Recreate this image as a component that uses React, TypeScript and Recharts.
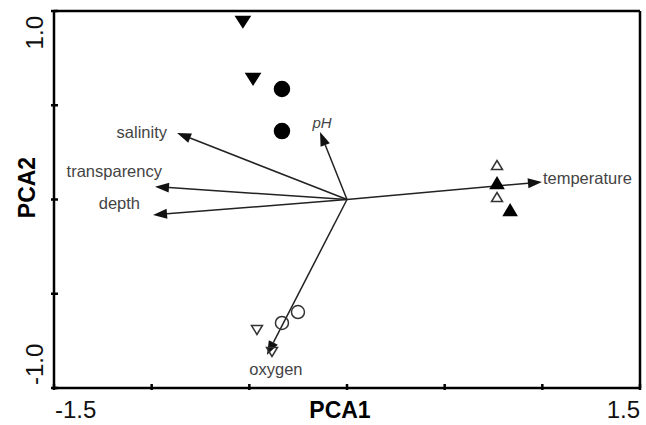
import React from 'react';
import { ScatterChart, Scatter, XAxis, YAxis, ReferenceLine, Label } from 'recharts';

// environmental variable loadings (arrows)
const variables = ['salinity', 'transparency', 'depth', 'pH', 'temperature', 'oxygen'];
const loadingPC1 = [-0.87, -0.983, -0.993, -0.138, 0.998, -0.41];
const loadingPC2 = [0.353, 0.068, -0.082, 0.358, 0.093, -0.825];

// sample scores
const filledDown = [{ x: -0.533, y: 0.942 }, { x: -0.481, y: 0.639 }];
const filledCircle = [{ x: -0.333, y: 0.586 }, { x: -0.333, y: 0.363 }];
const openUp = [{ x: 0.768, y: 0.183 }, { x: 0.768, y: 0.013 }];
const filledUp = [{ x: 0.768, y: 0.088 }, { x: 0.835, y: -0.056 }];
const openCircle = [{ x: -0.333, y: -0.655 }, { x: -0.251, y: -0.597 }];
const openDown = [{ x: -0.461, y: -0.692 }, { x: -0.384, y: -0.809 }];

const xTicks = [-1.5, -1, -0.5, 0, 0.5, 1, 1.5];
const yTicks = [-1, -0.5, 0, 0.5, 1];
const xTickLabels = ['-1.5', '', '', '', '', '', '1.5'];
const yTickLabels = ['-1.0', '', '', '', '1.0'];

const FONT = '"Liberation Sans", Arial, Helvetica, sans-serif';

// where each arrow label sits relative to the arrow tip
const labelStyle: Record<string, { dx: number; dy: number; anchor: string; italic?: boolean }> = {
  salinity: { dx: -10, dy: 5, anchor: 'end' },
  transparency: { dx: 7, dy: -10, anchor: 'end' },
  depth: { dx: -13, dy: -6, anchor: 'end' },
  pH: { dx: 2, dy: -4, anchor: 'middle', italic: true },
  temperature: { dx: 1, dy: 2, anchor: 'start' },
  oxygen: { dx: 9, dy: 20, anchor: 'middle' },
};

const arrowShape = (name: string) => (props: any) => {
  const { x1, y1, x2, y2 } = props;
  const ang = Math.atan2(y2 - y1, x2 - x1);
  const len = 14;
  const half = 5;
  const bx = x2 - len * Math.cos(ang);
  const by = y2 - len * Math.sin(ang);
  const px = -Math.sin(ang) * half;
  const py = Math.cos(ang) * half;
  const s = labelStyle[name];
  return (
    <g>
      <line x1={x1} y1={y1} x2={bx} y2={by} stroke="#222" strokeWidth={1.5} />
      <polygon points={`${x2},${y2} ${bx + px},${by + py} ${bx - px},${by - py}`} fill="#111" />
      <text
        x={x2 + s.dx}
        y={y2 + s.dy}
        textAnchor={s.anchor as any}
        fontFamily={FONT}
        fontSize={s.italic ? 15 : 16.5}
        fontStyle={s.italic ? 'italic' : 'normal'}
        fill="#444"
      >
        {name}
      </text>
    </g>
  );
};

const DownTri = (w: number, h: number, fill: string) => (p: any) => (
  <polygon
    points={`${p.cx - w / 2},${p.cy - h / 2} ${p.cx + w / 2},${p.cy - h / 2} ${p.cx},${p.cy + h / 2}`}
    fill={fill}
    stroke={fill === 'none' ? '#333' : fill}
    strokeWidth={1.5}
  />
);

const UpTri = (w: number, h: number, fill: string) => (p: any) => (
  <polygon
    points={`${p.cx - w / 2},${p.cy + h / 2} ${p.cx + w / 2},${p.cy + h / 2} ${p.cx},${p.cy - h / 2}`}
    fill={fill}
    stroke={fill === 'none' ? '#333' : fill}
    strokeWidth={1.5}
  />
);

const Dot = (r: number, fill: string) => (p: any) => (
  <circle cx={p.cx} cy={p.cy} r={r} fill={fill} stroke={fill === 'none' ? '#333' : fill} strokeWidth={1.5} />
);

const XTick = (props: any) => {
  const { x, y, index } = props;
  const text = xTickLabels[index];
  const last = index === xTicks.length - 1;
  return (
    <g>
      <line x1={x} x2={x} y1={y - 4} y2={y + 2} stroke="#000" strokeWidth={2.5} />
      {text && (
        <text x={last ? x : x + 1} y={y + 30} textAnchor={last ? 'end' : 'start'} fontFamily={FONT} fontSize={24} fill="#111">
          {text}
        </text>
      )}
    </g>
  );
};

const YTick = (props: any) => {
  const { x, y, index } = props;
  const text = yTickLabels[index];
  const top = index === yTicks.length - 1;
  const ty = top ? y + 5 : y - 3;
  return (
    <g>
      <line x1={x - 3} x2={x + 4} y1={y} y2={y} stroke="#000" strokeWidth={2.5} />
      {text && (
        <text
          x={43}
          y={ty}
          transform={`rotate(-90, 43, ${ty})`}
          textAnchor={top ? 'end' : 'start'}
          fontFamily={FONT}
          fontSize={24}
          fill="#111"
        >
          {text}
        </text>
      )}
    </g>
  );
};

export default function App() {
  return (
    <div style={{ position: 'absolute', left: 0, top: 0, background: '#fff' }}>
      <ScatterChart width={646} height={425} margin={{ top: 11, right: 6, bottom: 0, left: 0 }}>
        <XAxis
          type="number"
          dataKey="x"
          domain={[-1.5, 1.5]}
          ticks={xTicks}
          allowDataOverflow
          height={37}
          tickSize={0}
          tickMargin={0}
          tickLine={false}
          axisLine={{ stroke: '#000', strokeWidth: 2.5 }}
          tick={<XTick />}
          interval={0}
        >
          <Label
            content={({ viewBox }: any) => (
              <text
                x={viewBox.x + viewBox.width / 2 - 7}
                y={418}
                textAnchor="middle"
                fontFamily={FONT}
                fontWeight="bold"
                fontSize={23}
                fill="#000"
              >
                PCA1
              </text>
            )}
          />
        </XAxis>
        <YAxis
          type="number"
          dataKey="y"
          domain={[-1, 1]}
          ticks={yTicks}
          allowDataOverflow
          width={54}
          tickSize={0}
          tickMargin={0}
          tickLine={false}
          axisLine={{ stroke: '#000', strokeWidth: 2.5 }}
          tick={<YTick />}
          interval={0}
        >
          <Label
            content={({ viewBox }: any) => {
              const cy = viewBox.y + viewBox.height / 2 - 12;
              return (
                <text
                  x={35}
                  y={cy}
                  transform={`rotate(-90, 35, ${cy})`}
                  textAnchor="middle"
                  fontFamily={FONT}
                  fontWeight="bold"
                  fontSize={23}
                  fill="#000"
                >
                  PCA2
                </text>
              );
            }}
          />
        </YAxis>
        <ReferenceLine y={1} stroke="#000" strokeWidth={2.5} ifOverflow="visible" />
        <ReferenceLine x={1.5} stroke="#000" strokeWidth={2.5} ifOverflow="visible" />
        {variables.map((name, i) => (
          <ReferenceLine
            key={name}
            segment={[
              { x: 0, y: 0 },
              { x: loadingPC1[i], y: loadingPC2[i] },
            ]}
            ifOverflow="visible"
            shape={arrowShape(name)}
          />
        ))}
        <Scatter data={filledDown} shape={DownTri(14, 11, '#000')} isAnimationActive={false} />
        <Scatter data={filledCircle} shape={Dot(7.5, '#000')} isAnimationActive={false} />
        <Scatter data={openUp} shape={UpTri(11, 9, 'none')} isAnimationActive={false} />
        <Scatter data={filledUp} shape={UpTri(13, 11, '#000')} isAnimationActive={false} />
        <Scatter data={openCircle} shape={Dot(6.5, 'none')} isAnimationActive={false} />
        <Scatter data={openDown} shape={DownTri(11, 9, 'none')} isAnimationActive={false} />
      </ScatterChart>
    </div>
  );
}
